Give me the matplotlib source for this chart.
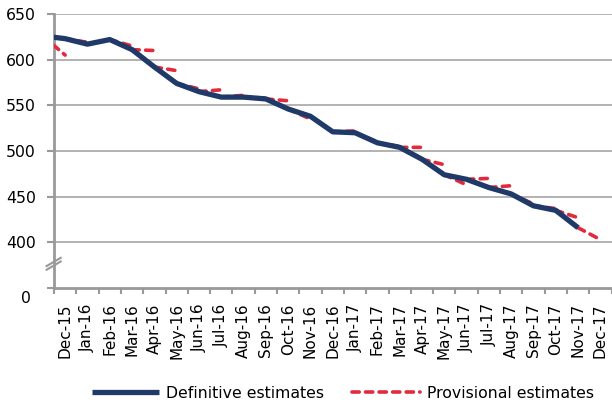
import matplotlib
matplotlib.use("Agg")
import matplotlib.pyplot as plt
import matplotlib.transforms as mtransforms
import numpy as np

plt.rcParams['font.family'] = ['DejaVu Sans']

months = ['Dec-15', 'Jan-16', 'Feb-16', 'Mar-16', 'Apr-16', 'May-16', 'Jun-16',
          'Jul-16', 'Aug-16', 'Sep-16', 'Oct-16', 'Nov-16', 'Dec-16', 'Jan-17',
          'Feb-17', 'Mar-17', 'Apr-17', 'May-17', 'Jun-17', 'Jul-17', 'Aug-17',
          'Sep-17', 'Oct-17', 'Nov-17', 'Dec-17']

# definitive estimates, Nov-15 (just left of the axis) then Dec-15 .. Nov-17
definitive_nov15 = 626
definitive = [623, 617, 622, 611, 592, 574, 565, 559, 559, 557, 546, 538,
              521, 520, 509, 504, 491, 474, 469, 460, 453, 440, 435, 416]

# provisional estimates, Dec-15 .. Dec-17
provisional = [605, 619, 622, 615, 610, 588, 568, 567, 561, 558, 555, 535,
               521, 522, 510, 505, 504, 485, 463, 470, 462, 442, 437, 427, 403]

blue = '#1F3A68'
red = '#E22A3C'
grey = '#999999'

fig = plt.figure(figsize=(6.12, 4.03), dpi=100)
ax = fig.add_axes([54 / 612, 1 - 288 / 403, 557.5 / 612, (288 - 14) / 403])

def_x = np.arange(-1, len(definitive))
def_y = np.array([definitive_nov15] + definitive, dtype=float)

# each provisional figure is drawn from the previous month's definitive value
seg_x, seg_y = [], []
for i, p in enumerate(provisional):
    seg_x += [i - 1, i, np.nan]
    seg_y += [def_y[i], p, np.nan]

ax.plot(seg_x, seg_y, color=red, lw=2.6, linestyle=(0, (2.0, 1.75)),
        dash_capstyle='round', label='Provisional estimates', zorder=3)
ax.plot(def_x, def_y, color=blue, lw=3.8, solid_joinstyle='round',
        solid_capstyle='butt', label='Definitive estimates', zorder=4)

ax.set_xlim(-0.5, len(months) - 0.5)
ax.set_ylim(350, 650)

ax.set_xticks(np.arange(len(months)))
ax.set_xticklabels(months, rotation=90, fontsize=11)
ax.set_xticks(np.arange(len(months) + 1) - 0.5, minor=True)
ax.tick_params(axis='x', which='major', length=0, pad=11)
ax.tick_params(axis='x', which='minor', length=4, width=1.5, color=grey)

ax.set_yticks([350, 400, 450, 500, 550, 600, 650])
ax.set_yticklabels(['0', '400', '450', '500', '550', '600', '650'], fontsize=11.3)
ax.tick_params(axis='y', length=5, width=1.5, color=grey, pad=8)
zero_lbl = ax.get_yticklabels()[0]
zero_lbl.set_transform(zero_lbl.get_transform() +
                       mtransforms.ScaledTranslation(-0.05, -0.09, fig.dpi_scale_trans))

for y in [400, 450, 500, 550, 600, 650]:
    ax.axhline(y, color='#A6A6A6', lw=1.2, zorder=1)

for s in ['top', 'right']:
    ax.spines[s].set_visible(False)
for s in ['left', 'bottom']:
    ax.spines[s].set_color(grey)
    ax.spines[s].set_linewidth(2)

# axis break marks
for off in [0, 4]:
    ax.plot([-0.83, -0.2], [347 + 25 + off - 2, 347 + 30 + off + 2], color=grey,
            lw=1.5, clip_on=False, zorder=5)

handles, labels = ax.get_legend_handles_labels()
fig.legend(handles[::-1], labels[::-1], loc='center', bbox_to_anchor=(0.56, 1 - 393 / 403),
           ncol=2, frameon=False, fontsize=11.3, handlelength=4.3,
           handletextpad=0.45, columnspacing=1.8)

fig.savefig('out.png', dpi=100)
